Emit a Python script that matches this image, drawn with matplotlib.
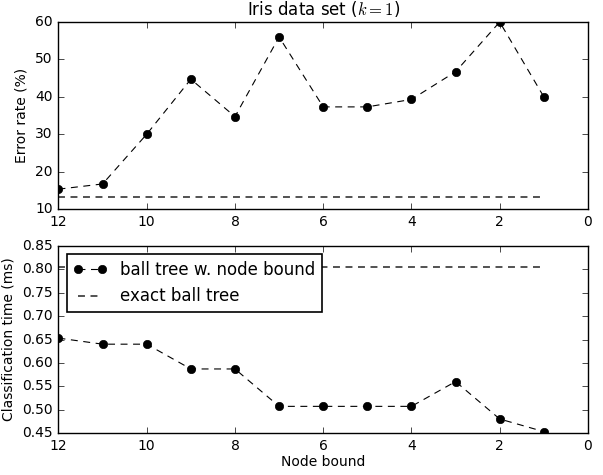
import matplotlib
matplotlib.use('Agg')
import matplotlib.pyplot as plt

plt.style.use('classic')

node_bound = [12, 11, 10, 9, 8, 7, 6, 5, 4, 3, 2, 1]
error_rate = [15.3, 16.7, 30.0, 44.7, 34.7, 56.0, 37.3, 37.3, 39.3, 46.7, 60.0, 40.0]
error_exact = 13.3
class_time = [0.653, 0.640, 0.640, 0.587, 0.587, 0.507, 0.507, 0.507, 0.507, 0.560, 0.480, 0.453]
time_exact = 0.805

dpi = 100
fig = plt.figure(figsize=(603 / dpi, 475 / dpi), dpi=dpi, facecolor='white')

ax1 = fig.add_axes([0.097, 0.560, 0.878, 0.3937])
ax2 = fig.add_axes([0.097, 0.0884, 0.878, 0.3937])

ax1.plot(node_bound, error_rate, 'k--o', markersize=6, lw=0.8, dashes=(5, 4),
         label='ball tree w. node bound')
ax1.plot(node_bound, [error_exact] * len(node_bound), '--', color='#444444', lw=1.3,
         dashes=(5, 4), label='exact ball tree')
ax1.set_xlim(12, 0)
ax1.set_ylim(10, 60)
ax1.set_ylabel('Error rate (%)', fontsize=10)
ax1.set_title(r'Iris data set ($k=1$)', fontsize=12)

ax2.plot(node_bound, class_time, 'k--o', markersize=6, lw=0.8, dashes=(5, 4),
         label='ball tree w. node bound')
ax2.plot(node_bound, [time_exact] * len(node_bound), '--', color='#444444', lw=1.3,
         dashes=(5, 4), label='exact ball tree')
ax2.set_xlim(12, 0)
ax2.set_ylim(0.45, 0.85)
ax2.set_ylabel('Classification time (ms)', fontsize=10)
ax2.set_xlabel('Node bound', fontsize=10, labelpad=2)
leg = ax2.legend(loc='upper left', numpoints=2, fontsize=12, handlelength=2.0,
                 borderaxespad=0.5)
leg.get_frame().set_linewidth(1.2)

for ax in (ax1, ax2):
    ax.tick_params(labelsize=10)

fig.savefig('out.png', dpi=dpi, facecolor='white')
